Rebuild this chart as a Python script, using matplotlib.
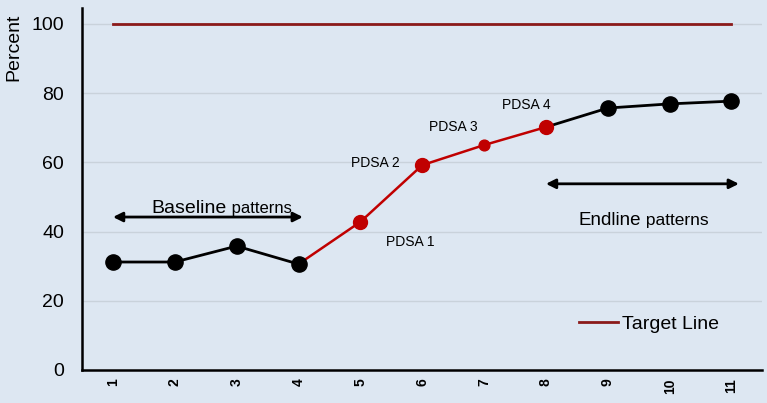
# Run chart: baseline, PDSA cycles and endline against the target line.
import matplotlib
matplotlib.use("Agg")
import matplotlib.pyplot as plt

plt.rcParams['font.family'] = ['Liberation Sans', 'DejaVu Sans']

# Data
months = [1, 2, 3, 4, 5, 6, 7, 8, 9, 10, 11]
percent = [31.2, 31.2, 35.8, 30.6, 42.8, 59.2, 65.0, 70.2, 75.7, 76.9, 77.7]
target = [100] * len(months)
pdsa_idx = [4, 5, 7]          # big red markers (PDSA 1, 2, 4)
pdsa_small_idx = [6]          # smaller red marker (PDSA 3)
pdsa_labels = ["PDSA 1", "PDSA 2", "PDSA 3", "PDSA 4"]
pdsa_label_pos = [(5.80, 37.0), (5.25, 59.8), (6.51, 70.2), (7.68, 76.6)]
yticks = [0, 20, 40, 60, 80, 100]

bg = '#dde7f2'
red = '#c00000'
dark_red = '#8b1a1a'

fig = plt.figure(figsize=(7.67, 4.03), dpi=100, facecolor=bg)
ax = fig.add_axes([0.107, 0.082, 0.887, 0.898], facecolor=bg)

# gridlines
for y in yticks[1:]:
    ax.axhline(y, color='#c9d2db', lw=1, zorder=0)

# target line
ax.plot(months, target, color=dark_red, lw=2, label='Target Line', zorder=2)

# data line: black outside PDSA cycles, red during them
ax.plot(months[:4], percent[:4], color='black', lw=2, zorder=3)
ax.plot(months[3:8], percent[3:8], color=red, lw=1.8, zorder=3)
ax.plot(months[7:], percent[7:], color='black', lw=2, zorder=3)

black_idx = [0, 1, 2, 3, 8, 9, 10]
ax.scatter([months[i] for i in black_idx], [percent[i] for i in black_idx],
           s=120, color='black', zorder=4)
ax.scatter([months[i] for i in pdsa_idx], [percent[i] for i in pdsa_idx],
           s=100, color=red, zorder=4)
ax.scatter([months[i] for i in pdsa_small_idx], [percent[i] for i in pdsa_small_idx],
           s=60, color=red, zorder=4)

for lab, (x, y) in zip(pdsa_labels, pdsa_label_pos):
    ax.text(x, y, lab, fontsize=10, ha='center', va='center')

# baseline / endline arrows
arrow = dict(arrowstyle='<|-|>', color='black', lw=2, mutation_scale=14,
             shrinkA=0, shrinkB=0)
ax.annotate('', xy=(1.0, 44.2), xytext=(4.07, 44.2), arrowprops=arrow)
ax.annotate('', xy=(8.0, 53.8), xytext=(11.12, 53.8), arrowprops=arrow)

t1 = ax.text(1.62, 45.3, 'Baseline', fontsize=14, va='baseline')
ax.annotate(' patterns', xy=(1, 0), xycoords=t1, fontsize=12,
            va='bottom', xytext=(0, 1.2), textcoords='offset points')
t2 = ax.text(8.52, 41.9, 'Endline', fontsize=13.5, va='baseline')
ax.annotate(' patterns', xy=(1, 0), xycoords=t2, fontsize=12.5,
            va='bottom', xytext=(0, 0.6), textcoords='offset points')

ax.legend(loc='center left', bbox_to_anchor=(0.731, 0.127), frameon=False,
          fontsize=14, handlelength=2.0, handletextpad=0.2,
          borderpad=0, borderaxespad=0)

ax.set_xlim(0.5, 11.5)
ax.set_ylim(0, 104.6)
ax.set_xticks(months)
ax.set_xticklabels([str(m) for m in months], rotation=90, fontsize=10,
                   fontweight='bold')
ax.set_yticks(yticks)
ax.set_yticklabels([str(y) for y in yticks], fontsize=14)
ax.tick_params(axis='x', length=0, pad=6)
ax.tick_params(axis='y', length=0, pad=13)
ax.set_ylabel('Percent', fontsize=14)
ax.yaxis.set_label_coords(-0.088, 0.892)

for side in ['top', 'right']:
    ax.spines[side].set_visible(False)
for side in ['left', 'bottom']:
    ax.spines[side].set_linewidth(1.8)

fig.savefig('out.png', dpi=100, facecolor=bg)
